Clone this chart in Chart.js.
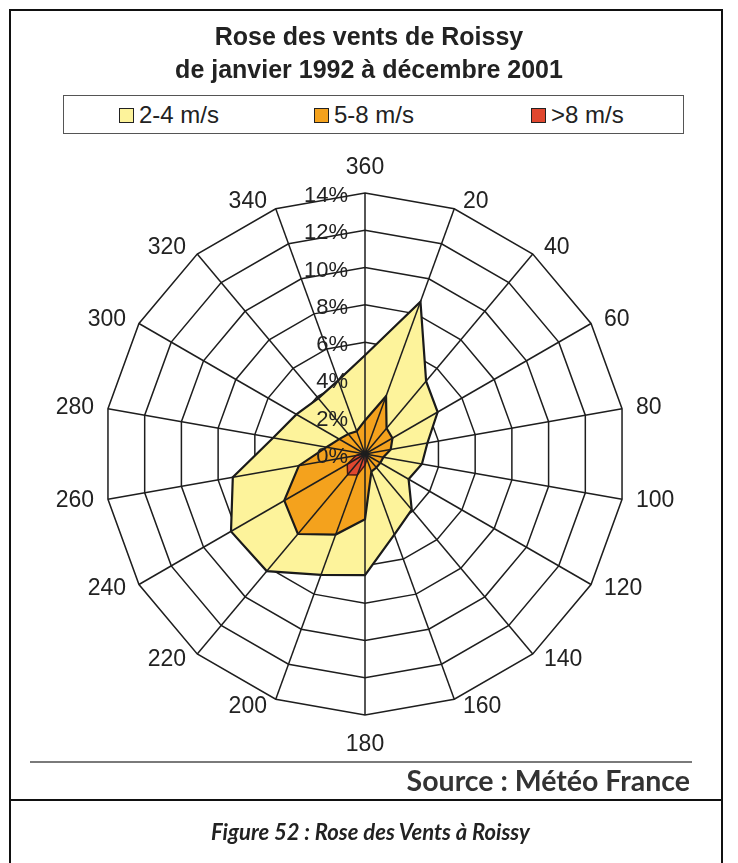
<!DOCTYPE html>
<html lang="fr">
<head>
<meta charset="utf-8">
<title>Rose des vents de Roissy</title>
<script src="https://cdn.jsdelivr.net/npm/chart.js@4.4.1/dist/chart.umd.min.js"></script>
<style>
  html, body { margin: 0; padding: 0; background: #fff; }
  #page { position: relative; width: 738px; height: 863px; overflow: hidden;
          font-family: "Liberation Sans", Arial, sans-serif; color: #222; }
  #rose { position: absolute; left: 0; top: 0; }
  .rule { position: absolute; background: #111; }
  .title { position: absolute; left: 0; width: 738px; text-align: center;
           font-weight: bold; font-size: 25px; line-height: 30px; color: #222; }
  #legend { position: absolute; left: 63px; top: 95px; width: 621px; height: 39px;
            border: 1.5px solid #555; box-sizing: border-box; background: #fff; }
  .item { position: absolute; top: 0; height: 36px; line-height: 37px; font-size: 24px; color: #222; }
  .swatch { display: inline-block; width: 13px; height: 13px; border: 1.5px solid #222;
            vertical-align: 0px; margin-right: 5px; }
  #source { position: absolute; right: 48px; top: 763px; font-family: Lato, "Open Sans", sans-serif;
            font-weight: bold; font-size: 28.5px; color: #333; }
  #caption { position: absolute; left: 0; width: 741px; top: 818px; text-align: center;
             font-family: Lato, "Open Sans", sans-serif; font-weight: bold; font-style: italic;
             font-size: 22px; color: #222; }
</style>
</head>
<body>
<div id="page">
  <canvas id="rose" width="738" height="863"></canvas>

  <!-- table frame around the figure and its caption -->
  <div class="rule" style="left:9px; top:9px; width:714px; height:2px;"></div>
  <div class="rule" style="left:9px; top:9px; width:2px; height:854px;"></div>
  <div class="rule" style="left:721px; top:9px; width:2px; height:854px;"></div>
  <div class="rule" style="left:9px; top:799px; width:714px; height:2px;"></div>
  <div class="rule" style="left:30px; top:761px; width:662px; height:2px; background:#7a7a7a;"></div>

  <div class="title" style="top:21px;">Rose des vents de Roissy</div>
  <div class="title" style="top:54px;">de janvier 1992 à décembre 2001</div>

  <div id="legend"></div>

  <div id="source">Source : Météo France</div>
  <div id="caption">Figure 52 : Rose des Vents à Roissy</div>
</div>

<script>
// Wind directions (degrees) and share of observations (%) per speed class
const directions = ['360', '20', '40', '60', '80', '100', '120', '140', '160',
                    '180', '200', '220', '240', '260', '280', '300', '320', '340'];
const speed2to4 = [5.3, 8.7, 5.1, 4.5, 3.4, 3.1, 2.7, 3.9, 4.6,
                   6.5, 6.9, 8.2, 8.3, 7.2, 5.0, 4.25, 3.9, 4.2];
const speed5to8 = [1.8, 3.3, 1.8, 1.7, 1.4, 1.0, 0.95, 0.95, 1.0,
                   3.5, 4.6, 5.6, 5.0, 3.6, 2.1, 1.6, 1.4, 1.3];
const speedOver8 = [0.15, 0.15, 0.15, 0.15, 0.15, 0.15, 0.15, 0.2, 0.3,
                    0.6, 1.2, 1.45, 1.1, 0.5, 0.2, 0.15, 0.15, 0.15];
const seriesNames = ['2-4 m/s', '5-8 m/s', '>8 m/s'];
const tickValues = [0, 2, 4, 6, 8, 10, 12, 14];
const tickLabels = ['0%', '2%', '4%', '6%', '8%', '10%', '12%', '14%'];

const fillColors = ['#FDF39B', '#F4A21D', '#E0472F'];
const edgeColors = ['#1a1a1a', '#1a1a1a', '#4a1610'];

// HTML legend in a framed box
const legendSlots = [118, 313, 530];
const legend = document.getElementById('legend');
seriesNames.forEach((name, k) => {
  const el = document.createElement('div');
  el.className = 'item';
  el.style.left = (legendSlots[k] - 63) + 'px';
  el.innerHTML = '<span class="swatch" style="background:' + fillColors[k] + '"></span>' + name;
  legend.appendChild(el);
});

// Spokes, radial tick labels and direction labels are painted above the fills
const roseOverlay = {
  id: 'roseOverlay',
  afterDatasetsDraw(chart) {
    const s = chart.scales.r;
    const ctx = chart.ctx;
    const n = directions.length;
    ctx.save();

    ctx.strokeStyle = '#1e1e1e';
    ctx.lineWidth = 1.5;
    for (let i = 0; i < n; i++) {
      const p = s.getPointPosition(i, s.drawingArea);
      ctx.beginPath();
      ctx.moveTo(s.xCenter, s.yCenter);
      ctx.lineTo(p.x, p.y);
      ctx.stroke();
    }

    ctx.fillStyle = '#222';
    ctx.font = '22px "Liberation Sans", Arial, sans-serif';
    ctx.textAlign = 'right';
    ctx.textBaseline = 'middle';
    tickValues.forEach((v, k) => {
      const d = s.getDistanceFromCenterForValue(v);
      ctx.fillText(tickLabels[k], s.xCenter - 17, s.yCenter - d + 3);
    });

    ctx.font = '23px "Liberation Sans", Arial, sans-serif';
    directions.forEach((lab, i) => {
      const p = s.getPointPosition(i, s.drawingArea);
      const a = s.getIndexAngle(i);
      const sn = Math.sin(a), cs = Math.cos(a);
      let x = p.x, y = p.y;
      if (Math.abs(sn) < 1e-6) {
        ctx.textAlign = 'center';
        y += cs > 0 ? -25 : 30;
      } else {
        const gap = 6 + 8 * Math.abs(sn);
        ctx.textAlign = sn > 0 ? 'left' : 'right';
        x += sn > 0 ? gap : -gap;
        y += -8 * cs;
      }
      ctx.fillText(lab, x, y);
    });
    ctx.restore();
  }
};

// Largest class gets the highest order so it is painted first, underneath
const series = [speed2to4, speed5to8, speedOver8];
new Chart(document.getElementById('rose'), {
  type: 'radar',
  data: {
    labels: directions,
    datasets: series.map((values, k) => ({
      label: seriesNames[k],
      data: values,
      order: series.length - k,
      fill: true,
      backgroundColor: fillColors[k],
      borderColor: edgeColors[k],
      borderWidth: k === 2 ? 1.5 : 2.2,
      pointRadius: 0,
      tension: 0
    }))
  },
  options: {
    responsive: false,
    animation: false,
    events: [],
    layout: { padding: { left: 104, right: 112, top: 193, bottom: 148 } },
    plugins: { legend: { display: false }, tooltip: { enabled: false } },
    scales: {
      r: {
        min: 0,
        max: 14,
        startAngle: 0,
        ticks: { stepSize: 2, display: false },
        grid: { circular: false, color: '#1e1e1e', lineWidth: 1.5 },
        angleLines: { display: false },
        pointLabels: { display: false }
      }
    }
  },
  plugins: [roseOverlay]
});
</script>
</body>
</html>
